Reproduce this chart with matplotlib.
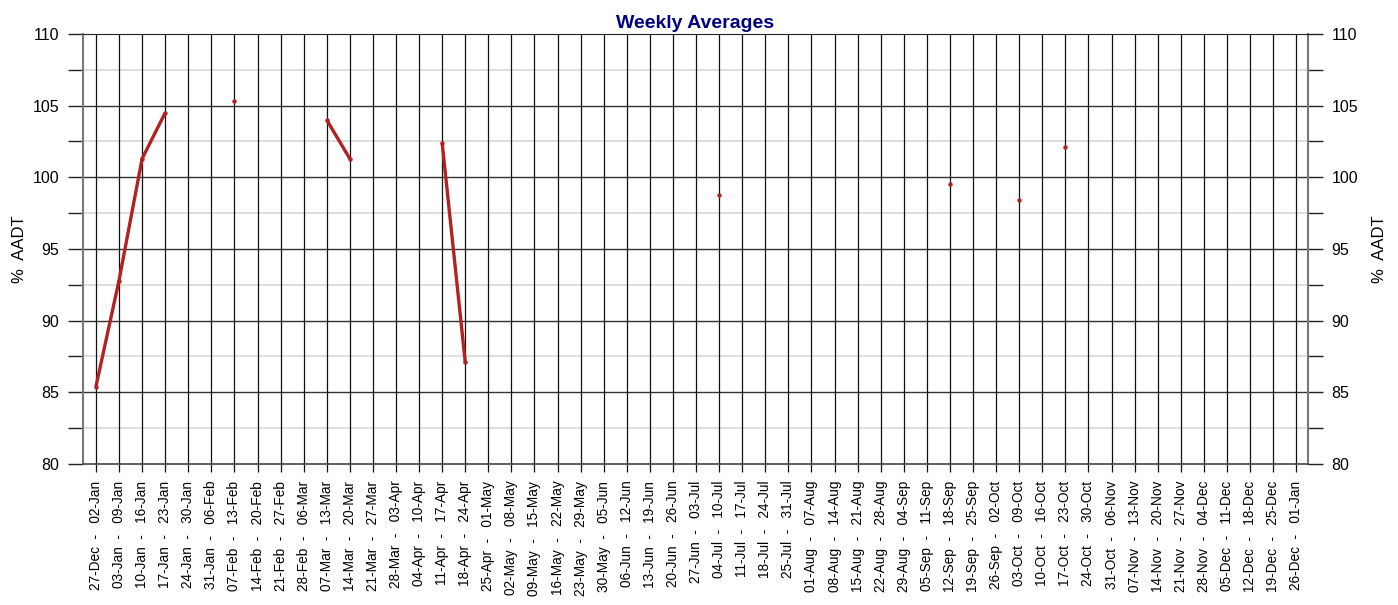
import numpy as np
import pandas as pd
import matplotlib
matplotlib.use("Agg")
import matplotlib.pyplot as plt

plt.rcParams['font.family'] = ['Liberation Sans', 'DejaVu Sans']

# week start dates -> labels like "27-Dec  -  02-Jan"
starts = pd.date_range("2021-12-27", periods=53, freq="7D")
week_labels = [s.strftime("%d-%b") + "  -   " + (s + pd.Timedelta(days=6)).strftime("%d-%b") for s in starts]

nan = np.nan
pct_aadt = [nan] * 53
readings = {0: 85.4, 1: 92.8, 2: 101.3, 3: 104.5,
            6: 105.3,
            10: 104.0, 11: 101.3,
            15: 102.4, 16: 87.1,
            27: 98.8,
            37: 99.5,
            40: 98.4,
            42: 102.1}
for k, v in readings.items():
    pct_aadt[k] = v
pct_aadt = np.array(pct_aadt)

fig = plt.figure(figsize=(13.98, 6.05), dpi=100)
ax = fig.add_axes((83/1398, 1-464/605, (1308-83)/1398, (464-34)/605))
x = np.arange(53)

ax.set_xlim(-0.56, 52.51)
ax.set_ylim(80, 110)

# grid
for yv in np.arange(82.5, 110, 5):
    ax.axhline(yv, color="#d8d8d8", lw=1.2, zorder=1)
for yv in np.arange(85, 110, 5):
    ax.axhline(yv, color="#333333", lw=1.0, zorder=1)
for xv in x:
    ax.axvline(xv, color="#111111", lw=0.9, zorder=1)

ax.plot(x, pct_aadt, color="#b22222", lw=2.4, solid_capstyle="butt", zorder=3)
ax.plot(x, pct_aadt, 'o', color="#b22222", ms=3.2, mew=0, zorder=3)

ax.set_xticks(x)
ax.set_xticklabels(week_labels, rotation=90, fontsize=9.8, va="top")
ax.tick_params(axis="x", length=6, width=0.9, color="#111111", pad=6)

ax.set_yticks(np.arange(80, 111, 5))
ax.set_yticks(np.arange(82.5, 110, 5), minor=True)
ax.tick_params(axis="y", which="both", length=11, width=1.0, color="#222222",
               labelsize=11.5, pad=6, right=True, labelright=True)
ax.set_ylabel("%  AADT", fontsize=12, labelpad=4)
ax2 = ax.secondary_yaxis("right")
ax2.set_yticks([])
ax2.spines["right"].set_visible(False)
ax2.set_ylabel("%  AADT", fontsize=12, labelpad=46)

for s in ["left", "right"]:
    ax.spines[s].set_color("#777777")
    ax.spines[s].set_linewidth(1.5)
ax.spines["top"].set_color("#222222")
ax.spines["bottom"].set_color("#444444")
ax.spines["bottom"].set_linewidth(1.2)

ax.set_title("Weekly Averages", fontsize=14, fontweight="bold", color="#000080", pad=4)

fig.savefig("out.png", dpi=100)
